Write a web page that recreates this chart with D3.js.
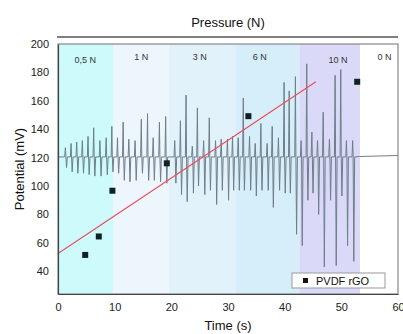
<!DOCTYPE html>
<html>
<head>
<meta charset="utf-8">
<script src="https://cdn.jsdelivr.net/npm/d3@7"></script>
<style>
  body { margin: 0; background: #fff; }
  svg { font-family: "Liberation Sans", Arial, sans-serif; }
</style>
</head>
<body>
<svg id="chart"></svg>
<script>
// pressure bands (s)
const bandNames = ['0,5 N', '1 N', '3 N', '6 N', '10 N', '0 N'];
const bandStart = [0, 9.7, 19.5, 31.3, 42.6, 53.3];
const bandEnd = [9.7, 19.5, 31.3, 42.6, 53.3, 60];
const bandLabelT = [4.8, 14.7, 25.0, 35.6, 49.4, 57.6];

// spike events: time, upper tip, lower tip (mV)
const spikeT = [1.3, 2.3, 3.3, 4.3, 5.3, 6.3, 7.4, 8.5, 9.5,
  10.5, 11.5, 12.5, 13.6, 14.7, 15.8, 16.8, 17.9, 19.0,
  20.6, 21.6, 22.6, 23.7, 24.6, 25.7, 26.7, 27.8, 28.8, 29.9, 30.8,
  31.8, 32.7, 33.8, 34.8, 35.8, 36.9, 37.8, 38.9, 39.9, 40.8, 41.9,
  42.9, 43.9, 44.8, 45.8, 46.8, 47.9, 48.9, 49.9, 50.9, 52.0];
const spikeUp = [127, 130, 131, 132, 135, 141, 132, 134, 142,
  134, 145, 133, 132, 147, 151, 134, 145, 149,
  132, 146, 164, 128, 155, 132, 148, 132, 133, 133, 135,
  134, 162, 135, 130, 144, 130, 142, 134, 173, 167, 177,
  132, 186, 138, 132, 152, 133, 178, 182, 132, 132];
const spikeDown = [113, 110, 109, 109, 108, 107, 107, 108, 110,
  109, 104, 103, 104, 109, 104, 104, 103, 102,
  102, 94, 89, 95, 100, 94, 97, 87, 97, 90, 97,
  97, 97, 97, 93, 97, 97, 85, 97, 95, 95, 66,
  58, 90, 95, 80, 43, 90, 44, 93, 58, 47];
const baseline = 120.5;
const restT = [0, 53.2, 60];
const restV = [120.5, 120.8, 121.5];

// PVDF rGO points
const ptsT = [4.8, 7.2, 9.6, 19.2, 33.6, 52.8];
const ptsV = [51.5, 64.5, 96.7, 116, 149.2, 173.4];

// linear fit
const fitT = [0, 45.5];
const fitV = [52.5, 173.5];

const xTicks = [0, 10, 20, 30, 40, 50, 60];
const yTicks = [40, 60, 80, 100, 120, 140, 160, 180, 200];
const bandColors = ['#cdfbfb', '#eef6fd', '#e2f2fb', '#d6edfa', '#dadaf8', '#ffffff'];

const W = 403, H = 334;
const m = { left: 58, right: 5, top: 44, bottom: 40 };
const svg = d3.select('#chart').attr('width', W).attr('height', H);

const x = d3.scaleLinear().domain([0, 60]).range([m.left, W - m.right]);
const y = d3.scaleLinear().domain([24, 200]).range([H - m.bottom, m.top]);

// bands
svg.selectAll('rect.band')
  .data(bandNames)
  .enter()
  .append('rect')
  .attr('class', 'band')
  .attr('x', (d, i) => x(bandStart[i]))
  .attr('width', (d, i) => x(bandEnd[i]) - x(bandStart[i]))
  .attr('y', m.top)
  .attr('height', y(24) - m.top)
  .attr('fill', (d, i) => bandColors[i]);

svg.selectAll('text.band')
  .data(bandNames)
  .enter()
  .append('text')
  .attr('class', 'band')
  .attr('x', (d, i) => x(bandLabelT[i]))
  .attr('y', (d, i) => (i === 0 || i === 4) ? 63 : 60)
  .attr('text-anchor', 'middle')
  .attr('font-size', 9)
  .attr('fill', '#333')
  .text(d => d);

// signal
const sig = [[restT[0], restV[0]]];
spikeT.forEach((t, i) => {
  sig.push([t - 0.12, baseline]);
  sig.push([t, spikeUp[i]]);
  sig.push([t + 0.08, baseline + 1.5]);
  sig.push([t + 0.2, spikeDown[i]]);
  sig.push([t + 0.35, baseline]);
});
sig.push([restT[1], restV[1]]);
sig.push([restT[2], restV[2]]);

const line = d3.line().x(d => x(d[0])).y(d => y(d[1]));
svg.append('path')
  .datum(sig)
  .attr('d', line)
  .attr('fill', 'none')
  .attr('stroke', '#6f7e88')
  .attr('stroke-width', 1);

// fit line
svg.append('path')
  .datum(fitT.map((t, i) => [t, fitV[i]]))
  .attr('d', line)
  .attr('stroke', '#e8505c')
  .attr('stroke-width', 1.2);

// points
svg.selectAll('rect.pt')
  .data(ptsT)
  .enter()
  .append('rect')
  .attr('class', 'pt')
  .attr('x', (d) => x(d) - 3)
  .attr('y', (d, i) => y(ptsV[i]) - 3)
  .attr('width', 6)
  .attr('height', 6)
  .attr('fill', '#0f2224');

// frame
svg.append('rect')
  .attr('x', m.left).attr('y', m.top)
  .attr('width', W - m.right - m.left)
  .attr('height', y(24) - m.top)
  .attr('fill', 'none')
  .attr('stroke', '#888')
  .attr('stroke-width', 1.2);

// axes
const xAxis = svg.append('g')
  .attr('transform', `translate(0,${y(24)})`)
  .call(d3.axisBottom(x).tickValues(xTicks).tickSize(0).tickPadding(9));
const yAxis = svg.append('g')
  .attr('transform', `translate(${m.left},0)`)
  .call(d3.axisLeft(y).tickValues(yTicks).tickSize(0).tickPadding(9));
[xAxis, yAxis].forEach(g => {
  g.select('.domain').attr('stroke', '#444').attr('stroke-width', 1.2);
  g.selectAll('text').attr('font-size', 11).attr('fill', '#222')
    .attr('font-family', '"Liberation Sans", Arial, sans-serif');
});

// titles
svg.append('text')
  .attr('x', (x(0) + x(60)) / 2).attr('y', 27)
  .attr('text-anchor', 'middle').attr('font-size', 13).attr('fill', '#111')
  .text('Pressure (N)');
svg.append('line')
  .attr('x1', m.left - 1).attr('x2', W - m.right)
  .attr('y1', 37).attr('y2', 37)
  .attr('stroke', '#555').attr('stroke-width', 1.5);
svg.append('text')
  .attr('x', (x(0) + x(60)) / 2).attr('y', 330)
  .attr('text-anchor', 'middle').attr('font-size', 13).attr('fill', '#111')
  .text('Time (s)');
svg.append('text')
  .attr('transform', `translate(24,${(m.top + y(24)) / 2}) rotate(-90)`)
  .attr('text-anchor', 'middle').attr('font-size', 13).attr('fill', '#111')
  .text('Potential (mV)');

// legend
const lg = svg.append('g').attr('transform', 'translate(292,273)');
lg.append('rect').attr('width', 93).attr('height', 15)
  .attr('fill', '#fff').attr('stroke', '#999');
lg.append('rect').attr('x', 11).attr('y', 5).attr('width', 5).attr('height', 5).attr('fill', '#111');
lg.append('text').attr('x', 24).attr('y', 11.5).attr('font-size', 11).attr('fill', '#111').text('PVDF rGO');
</script>
</body>
</html>
